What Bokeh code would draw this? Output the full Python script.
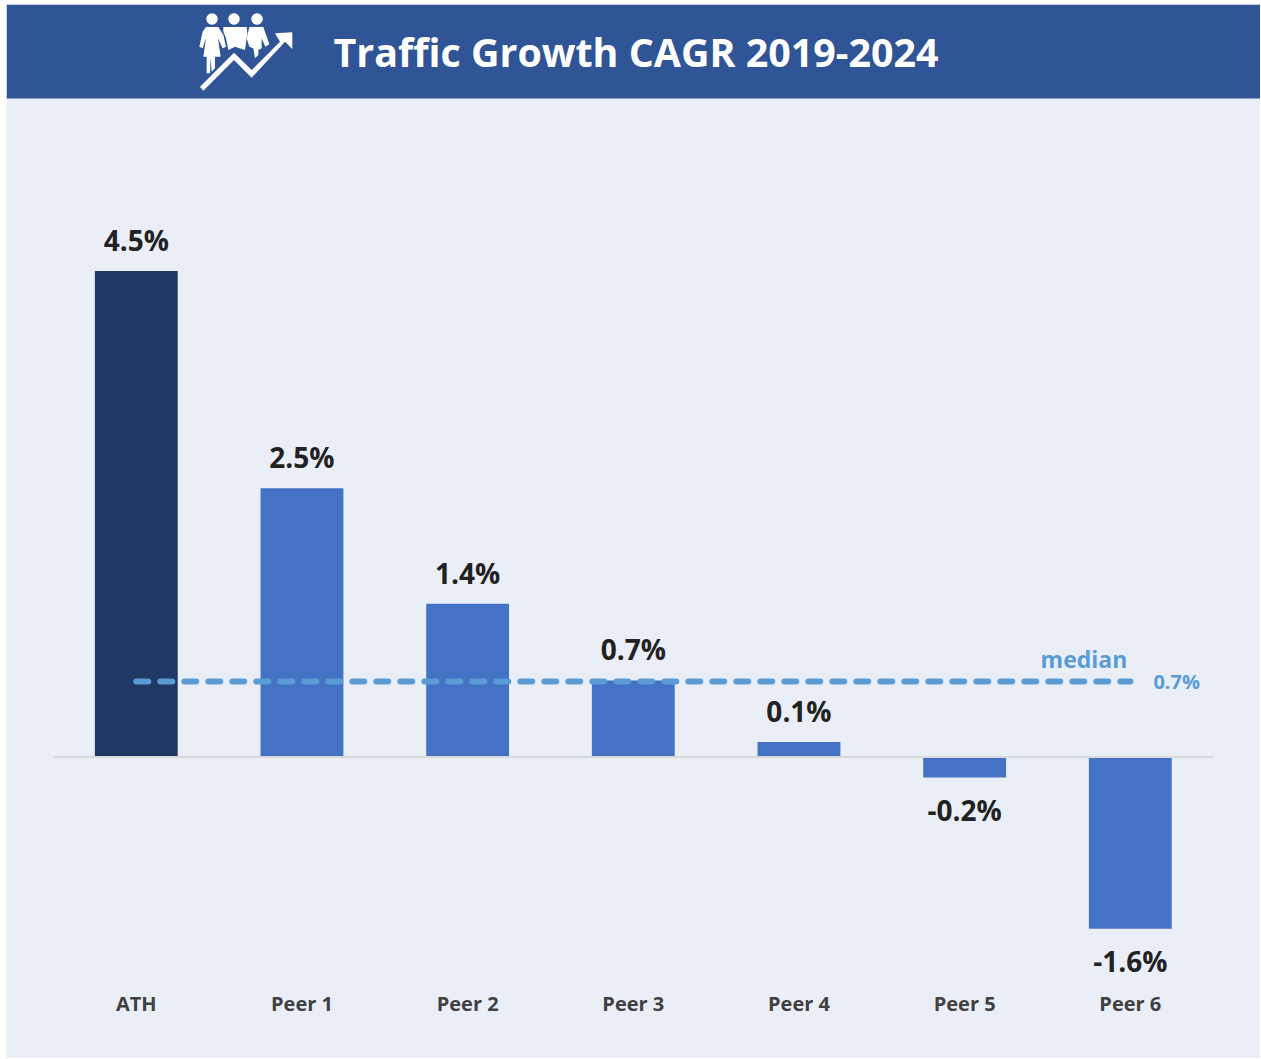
import numpy as np
from bokeh.plotting import figure
from bokeh.embed import file_html
from bokeh.resources import INLINE
from bokeh.models import (ColumnDataSource, Range1d, FixedTicker, LinearAxis, BoxAnnotation,
                          PolyAnnotation, Label)
from bokeh.core.properties import value

categories = ["ATH", "Peer 1", "Peer 2", "Peer 3", "Peer 4", "Peer 5", "Peer 6"]
growth = [4.5, 2.49, 1.42, 0.71, 0.14, -0.19, -1.59]
labels = ["4.5%", "2.5%", "1.4%", "0.7%", "0.1%", "-0.2%", "-1.6%"]
bar_colors = ["#1F3864", "#4472C4", "#4472C4", "#4472C4", "#4472C4", "#4472C4", "#4472C4"]
median_value = 0.70
title_text = "Traffic Growth CAGR 2019-2024"

FONT = "Open Sans"
BG = "#EAEEF7"
HEAD = "#2F5597"
OX, OY = 7, 5  # page pixel of canvas origin
W, H = 1254, 1054

# pixel calibration of the value and category scales
PX_X0, PX_STEP = 136.8, 165.67
PX_Y0, PX_UNIT = 757.6, 108.0

p = figure(width=W, height=H, output_backend="svg", toolbar_location=None,
           x_range=Range1d((OX - PX_X0) / PX_STEP, (OX + W - PX_X0) / PX_STEP),
           y_range=Range1d((PX_Y0 - (OY + H)) / PX_UNIT, (PX_Y0 - OY) / PX_UNIT),
           x_axis_type=None, y_axis_type=None, min_border=0,
           margin=(4, 0, 0, 6),
           background_fill_color=BG, border_fill_color=BG, outline_line_color=None)
p.grid.visible = False

xs = list(range(len(categories)))
src = ColumnDataSource(dict(x=xs, top=growth, color=bar_colors, label=labels,
                            off=[-31 if v > 0 else 32.5 for v in growth]))

# header
p.add_layout(BoxAnnotation(left=0, right=W, top=H, bottom=H - (99 - OY),
                           left_units="screen", right_units="screen",
                           top_units="screen", bottom_units="screen",
                           fill_color=HEAD, fill_alpha=1, line_color=None, level="overlay"))


def poly(pts, zoomed=True):
    a = np.array(pts, dtype=float)
    if zoomed:
        a = a / 3 + np.array([190.5, 5.5])
    p.add_layout(PolyAnnotation(xs=list(a[:, 0] - OX), ys=list(H - (a[:, 1] - OY)),
                                xs_units="screen", ys_units="screen",
                                fill_color="white", fill_alpha=1, line_color=None,
                                level="overlay"))


def disc(cx, cy, r):
    t = np.linspace(0, 2 * np.pi, 24, endpoint=False)
    poly(np.c_[cx + r * np.cos(t), cy + r * np.sin(t)], zoomed=False)


for cx in (212.5, 234.5, 257.5):
    disc(cx, 19.5, 5.7)
poly([(48, 66), (85, 66), (100, 90), (108, 125), (98, 130), (84, 100), (92, 155), (75, 155), (75, 190),
      (65, 200), (62, 160), (60, 205), (50, 205), (50, 155), (40, 155), (48, 100), (38, 130), (28, 125), (38, 80)])
poly([(100, 66), (170, 66), (172, 85), (165, 135), (135, 125), (115, 135), (108, 100), (100, 80)])
poly([(178, 66), (220, 66), (238, 118), (226, 125), (215, 100), (215, 130), (205, 135), (205, 150),
      (195, 160), (190, 130), (178, 125), (170, 100)])
poly([(30, 245), (132, 143), (185, 195), (270, 110), (255, 85), (307, 82), (307, 132), (285, 110),
      (185, 218), (132, 165), (40, 257)])

# bars
p.vbar(x="x", top="top", bottom=0, width=0.5, fill_color="color", line_color=None, source=src)
# zero line
p.segment(x0=[-0.5], x1=[6.5], y0=[0], y1=[0], line_color="#D9D9D9", line_width=2)
# median
p.line(x=[0, 6], y=[median_value, median_value], line_color="#5B9BD5", line_width=6,
       line_dash="12 12", line_cap="round")
# value labels
p.text(x="x", y="top", text="label", y_offset="off", source=src, text_align="center",
       text_baseline="middle", text_font=value(FONT), text_font_style="bold",
       text_font_size="28px", text_color="#222222")
# median labels
p.text(x=[5.72], y=[median_value], text=["median"], y_offset=[-23], text_align="center",
       text_baseline="middle", text_font=value(FONT), text_font_style="bold",
       text_font_size="23px", text_color="#5B9BD5")
p.text(x=[6.28], y=[median_value], text=[f"{median_value:.1f}%"], text_align="center",
       text_baseline="middle", text_font=value(FONT), text_font_style="bold",
       text_font_size="20px", text_color="#5B9BD5")

# category axis, drawn inside the panel
ax = LinearAxis(ticker=FixedTicker(ticks=xs),
                major_label_overrides=dict(zip(xs, categories)),
                fixed_location=-2.10, axis_line_color=None, major_tick_line_color=None,
                minor_tick_line_color=None, major_label_standoff=0,
                major_label_text_font=FONT, major_label_text_font_style="bold",
                major_label_text_font_size="20px", major_label_text_color="#404040")
p.add_layout(ax, "below")

# title
p.add_layout(Label(x=334 - OX, y=H - (52 - OY), x_units="screen", y_units="screen",
                   text=title_text, text_font=FONT, text_font_style="bold",
                   text_font_size="39.4px", text_color="white", text_baseline="middle",
                   level="overlay"))

open("out.html", "w").write(file_html(p, INLINE))
